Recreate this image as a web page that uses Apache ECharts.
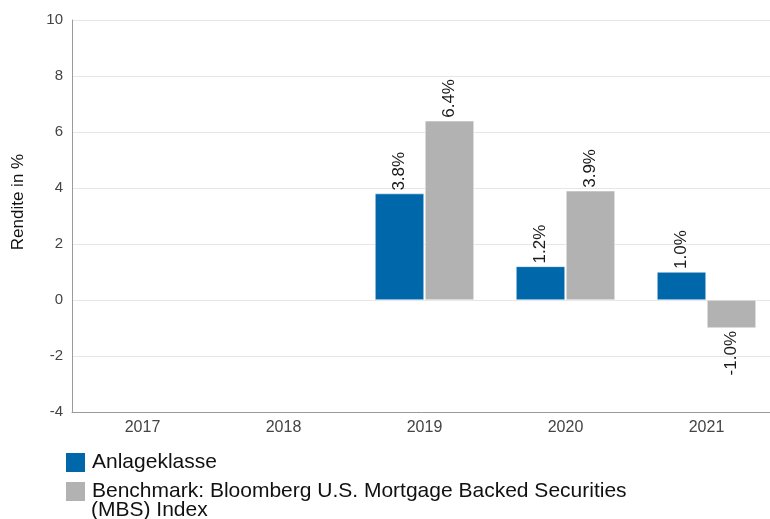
<!DOCTYPE html>
<html>
<head>
<meta charset="utf-8">
<script src="https://cdn.jsdelivr.net/npm/echarts@6/dist/echarts.min.js"></script>
<style>html,body{margin:0;padding:0;background:#fff}#c{width:770px;height:519px}</style>
</head>
<body>
<div id="c"></div>
<script>
const categories = ['2017', '2018', '2019', '2020', '2021'];
const assetName = 'Anlageklasse';
const benchName = 'Benchmark: Bloomberg U.S. Mortgage Backed Securities (MBS) Index';
const assetValues = [null, null, 3.8, 1.2, 1.0];
const benchValues = [null, null, 6.4, 3.9, -1.0];
const yTicks = { min: -4, max: 10, interval: 2 };

const font = 'Liberation Sans, Arial, sans-serif';

function labelFor(v) {
  const neg = v < 0;
  return {
    show: true,
    position: neg ? 'bottom' : 'top',
    rotate: 90,
    align: neg ? 'right' : 'left',
    verticalAlign: 'middle',
    distance: 3,
    fontFamily: font,
    fontSize: 17,
    color: '#1a1a1a',
    formatter: p => p.value.toFixed(1) + '%'
  };
}
function toData(arr) {
  return arr.map(v => v === null ? null : { value: v, label: labelFor(v) });
}

const chart = echarts.init(document.getElementById('c'));
chart.setOption({
  animation: false,
  grid: { left: 72, top: 20, width: 705, height: 392, outerBoundsMode: 'none', containLabel: false },
  xAxis: {
    type: 'category',
    data: categories,
    axisLine: { onZero: false, lineStyle: { color: '#9a9a9a' } },
    axisTick: { show: false },
    axisLabel: { fontFamily: font, fontSize: 16, color: '#444', margin: 8 }
  },
  yAxis: {
    type: 'value',
    min: yTicks.min, max: yTicks.max, interval: yTicks.interval,
    name: 'Rendite in %',
    nameLocation: 'middle',
    nameGap: 45,
    nameTextStyle: { fontFamily: font, fontSize: 17, color: '#111', padding: [0, 0, 0, 28] },
    axisLine: { show: true, lineStyle: { color: '#9a9a9a' } },
    axisTick: { show: false },
    axisLabel: { fontFamily: font, fontSize: 15, color: '#444', margin: 9 },
    splitLine: { lineStyle: { color: '#e6e6e6' } }
  },
  legend: {
    orient: 'vertical',
    left: 64, top: 450, padding: 0,
    itemWidth: 21, itemHeight: 21, itemGap: 4,
    icon: 'rect',
    data: [assetName, benchName],
    formatter: n => n === benchName ? 'Benchmark: Bloomberg U.S. Mortgage Backed Securities' : n,
    textStyle: { fontFamily: font, fontSize: 21, lineHeight: 21, color: '#111', padding: [4, 0, 0, 1] }
  },
  graphic: [{
    type: 'text', left: 91, top: 500,
    style: { text: '(MBS) Index', font: '21px ' + font, fill: '#111' }
  }],
  series: [
    { name: assetName, type: 'bar', data: toData(assetValues), barWidth: 49, barGap: '2%',
      itemStyle: { color: '#0067AA', borderColor: '#ffffff', borderWidth: 0.5 } },
    { name: benchName, type: 'bar', data: toData(benchValues), barWidth: 49,
      itemStyle: { color: '#B2B2B2', borderColor: '#ffffff', borderWidth: 0.5 } }
  ]
});
</script>
</body>
</html>
